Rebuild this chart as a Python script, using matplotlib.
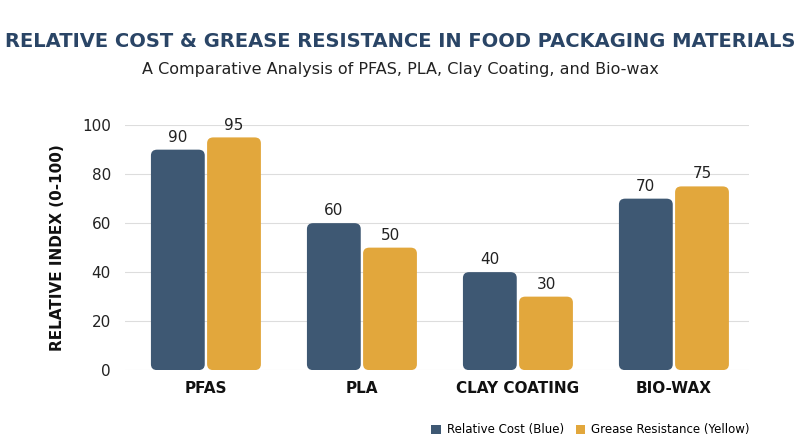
import matplotlib
matplotlib.use("Agg")
import matplotlib.pyplot as plt
from matplotlib.patches import FancyBboxPatch, Patch

categories = ["PFAS", "PLA", "CLAY COATING", "BIO-WAX"]
cost = [90, 60, 40, 70]
grease = [95, 50, 30, 75]
yticks = [0, 20, 40, 60, 80, 100]

blue = "#3e5873"
yellow = "#e2a73c"
navy = "#2a4566"

fig = plt.figure(figsize=(8, 4.47), dpi=100)
ax = fig.add_axes([0.156, 0.172, 0.78, 0.548])
ax.set_xlim(-0.52, 3.48)
ax.set_ylim(0, 100)

w = 0.345
gap = 0.015
for i, (c, g) in enumerate(zip(cost, grease)):
    for x0, v, col in [(i - w - gap/2, c, blue), (i + gap/2, g, yellow)]:
        p = FancyBboxPatch((x0, 0), w, v, boxstyle="round,pad=0,rounding_size=0.04",
                           mutation_aspect=60, fc=col, ec="none", zorder=3)
        ax.add_patch(p)
        ax.text(x0 + w/2, v + 2, str(v), ha="center", va="bottom", fontsize=11, color="#222222")

ax.set_xticks(range(4))
ax.set_xticklabels(categories, fontsize=11, fontweight="bold", color="#111111")
ax.set_yticks(yticks)
ax.set_yticklabels([str(t) for t in yticks], fontsize=11, color="#222222")
ax.tick_params(length=0, pad=10)
ax.tick_params(axis="x", pad=8)
ax.grid(axis="y", color="#dddddd", lw=0.8, zorder=0)
for s in ax.spines.values():
    s.set_visible(False)
ax.set_ylabel("RELATIVE INDEX (0-100)", fontsize=11, fontweight="bold", color="#111111", labelpad=12)

fig.text(0.5, 0.895, "RELATIVE COST & GREASE RESISTANCE IN FOOD PACKAGING MATERIALS",
         ha="center", fontsize=14, fontweight="bold", color=navy)
fig.text(0.5, 0.835, "A Comparative Analysis of PFAS, PLA, Clay Coating, and Bio-wax",
         ha="center", fontsize=11.5, color="#222222")

handles = [Patch(fc=blue, label="Relative Cost (Blue)"), Patch(fc=yellow, label="Grease Resistance (Yellow)")]
fig.legend(handles=handles, loc="lower right", bbox_to_anchor=(0.95, 0.0), ncol=2, frameon=False,
           fontsize=8.5, handlelength=0.8, handleheight=0.8, columnspacing=1.0, handletextpad=0.5)

fig.savefig("out.png", dpi=100, facecolor="white")
